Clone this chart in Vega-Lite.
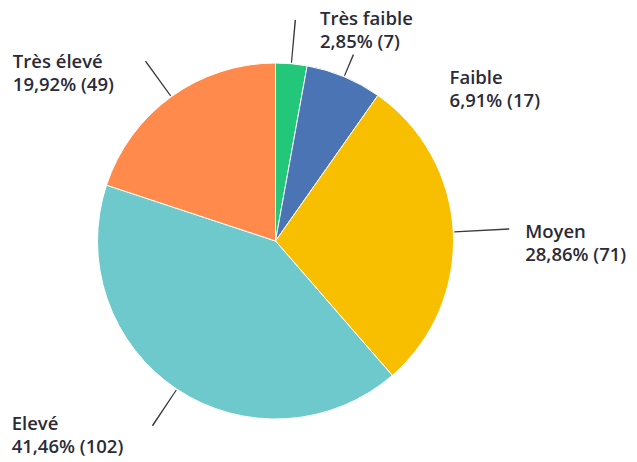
{
  "$schema": "https://vega.github.io/schema/vega-lite/v6.json",
  "width": 551,
  "height": 442,
  "autosize": "none",
  "padding": {"left": 0, "right": 86, "top": 20, "bottom": 0},
  "background": "white",
  "view": {"stroke": null},
  "data": {
    "values": [
      {"order": 1, "category": "Très faible", "count": 7, "pct": "2,85"},
      {"order": 2, "category": "Faible", "count": 17, "pct": "6,91"},
      {"order": 3, "category": "Moyen", "count": 71, "pct": "28,86"},
      {"order": 4, "category": "Elevé", "count": 102, "pct": "41,46"},
      {"order": 5, "category": "Très élevé", "count": 49, "pct": "19,92"}
    ]
  },
  "transform": [
    {"window": [{"op": "sum", "field": "count", "as": "cum"}], "sort": [{"field": "order"}], "frame": [null, 0]},
    {"calculate": "datum.cum - datum.count", "as": "start"},
    {"calculate": "datum.cum - datum.count / 2", "as": "mid"},
    {"calculate": "datum.mid - 0.13", "as": "la"},
    {"calculate": "datum.mid + 0.13", "as": "lb"},
    {"calculate": "datum.category + '\\n' + datum.pct + '% (' + datum.count + ')'", "as": "label"}
  ],
  "layer": [
    {
      "mark": {"type": "arc", "radius": 178, "stroke": "white", "strokeWidth": 1},
      "encoding": {
        "theta": {"field": "start", "type": "quantitative", "stack": null, "scale": {"domain": [0, 246], "range": [0, 6.283185307179586]}},
        "theta2": {"field": "cum"},
        "color": {
          "field": "category",
          "type": "nominal",
          "legend": null,
          "scale": {
            "domain": ["Très faible", "Faible", "Moyen", "Elevé", "Très élevé"],
            "range": ["#22c77a", "#4b74b4", "#f8be00", "#6dc9cb", "#ff8a4c"]
          }
        }
      }
    },
    {
      "mark": {
        "type": "arc",
        "radius": {"expr": "datum.order == 3 ? 234 : datum.order == 2 ? 202 : 222"},
        "radius2": 179,
        "color": "#3a3a40"
      },
      "encoding": {
        "theta": {"field": "la", "type": "quantitative", "stack": null, "scale": {"domain": [0, 246], "range": [0, 6.283185307179586]}},
        "theta2": {"field": "lb"}
      }
    },
    {
      "mark": {
        "type": "text",
        "radius": 218,
        "font": "Open Sans",
        "fontSize": 18.5,
        "fontWeight": 600,
        "lineHeight": 23,
        "lineBreak": "\n",
        "color": "#2b2b38",
        "baseline": "top",
        "align": "left",
        "dx": {"expr": "datum.order == 1 ? 25 : datum.order == 2 ? 90 : datum.order == 3 ? 32 : datum.order == 4 ? -143 : -135"},
        "dy": {"expr": "datum.order == 1 ? -14 : datum.order == 2 ? 29 : datum.order == 3 ? -7 : datum.order == 4 ? -7 : -11"}
      },
      "encoding": {
        "theta": {"field": "mid", "type": "quantitative", "stack": null, "scale": {"domain": [0, 246], "range": [0, 6.283185307179586]}},
        "text": {"field": "label"}
      }
    }
  ]
}
